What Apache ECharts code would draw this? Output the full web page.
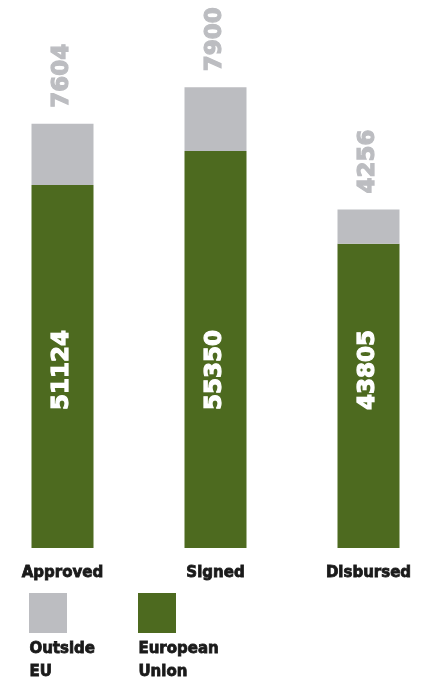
<!DOCTYPE html>
<html>
<head>
  <meta charset="UTF-8">
  <title>Approved / Signed / Disbursed</title>
  <style>
    html, body { margin: 0; padding: 0; background: #fff; }
    #chart { width: 430px; height: 677px; }
  </style>
  <script src="https://cdn.jsdelivr.net/npm/echarts@6/dist/echarts.min.js"></script>
</head>
<body>
  <div id="chart"></div>
  <script>
    var categories = ['Approved', 'Signed', 'Disbursed'];
    var euValues = [51124, 55350, 43805];
    var outsideValues = [7604, 7900, 4256];
    var seriesNames = ['European Union', 'Outside EU'];
    var legendLines = { 'Outside EU': 'Outside\nEU', 'European Union': 'European\nUnion' };

    var GREEN = '#4d6a1f';
    var GREY = '#bcbdc1';
    var INK = '#1a1a1a';
    var FONT = '"DejaVu Sans"';

    var chart = echarts.init(document.getElementById('chart'));

    // legend items draw only the square; the name goes underneath as text
    function legendAt(name, left) {
      return {
        data: [name],
        left: left,
        top: 593,
        icon: 'rect',
        itemWidth: 38,
        itemHeight: 40,
        padding: 0,
        selectedMode: false,
        formatter: function () { return ''; }
      };
    }

    // thin outline in the fill colour to get a heavier weight
    function legendText(name, left) {
      return {
        type: 'text', left: left, top: 638,
        style: {
          text: legendLines[name], font: 'bold 15px ' + FONT, fill: INK,
          lineHeight: 23, stroke: INK, lineWidth: 0.8
        }
      };
    }

    var option = {
      backgroundColor: '#fff',
      animation: false,
      grid: { left: -14, right: -15, top: 33, bottom: 129, outerBoundsMode: 'none' },
      legend: [legendAt('Outside EU', 29), legendAt('European Union', 138)],
      graphic: [legendText('Outside EU', 29), legendText('European Union', 138)],
      xAxis: {
        type: 'category',
        data: categories,
        axisLine: { show: false },
        axisTick: { show: false },
        axisLabel: {
          margin: 18, color: INK, fontFamily: FONT, fontWeight: 'bold', fontSize: 15,
          textBorderColor: INK, textBorderWidth: 0.8
        }
      },
      yAxis: {
        type: 'value',
        min: 6000,
        max: 70000,
        show: false,
        splitLine: { show: false }
      },
      series: [
        {
          name: seriesNames[0],
          type: 'bar',
          stack: 'total',
          barWidth: 62,
          data: euValues,
          itemStyle: { color: GREEN },
          label: {
            show: true,
            position: 'insideBottom',
            distance: 178,
            rotate: 90,
            align: 'center',
            verticalAlign: 'middle',
            color: '#fff',
            textBorderColor: '#fff',
            textBorderWidth: 1.2,
            fontFamily: FONT,
            fontWeight: 'bold',
            fontSize: 23
          }
        },
        {
          name: seriesNames[1],
          type: 'bar',
          stack: 'total',
          barWidth: 62,
          data: outsideValues,
          itemStyle: { color: GREY },
          label: {
            show: true,
            position: 'top',
            distance: 16,
            rotate: 90,
            align: 'left',
            verticalAlign: 'middle',
            color: GREY,
            textBorderColor: GREY,
            textBorderWidth: 1.2,
            fontFamily: FONT,
            fontWeight: 'bold',
            fontSize: 23
          }
        }
      ]
    };

    chart.setOption(option);
  </script>
</body>
</html>
